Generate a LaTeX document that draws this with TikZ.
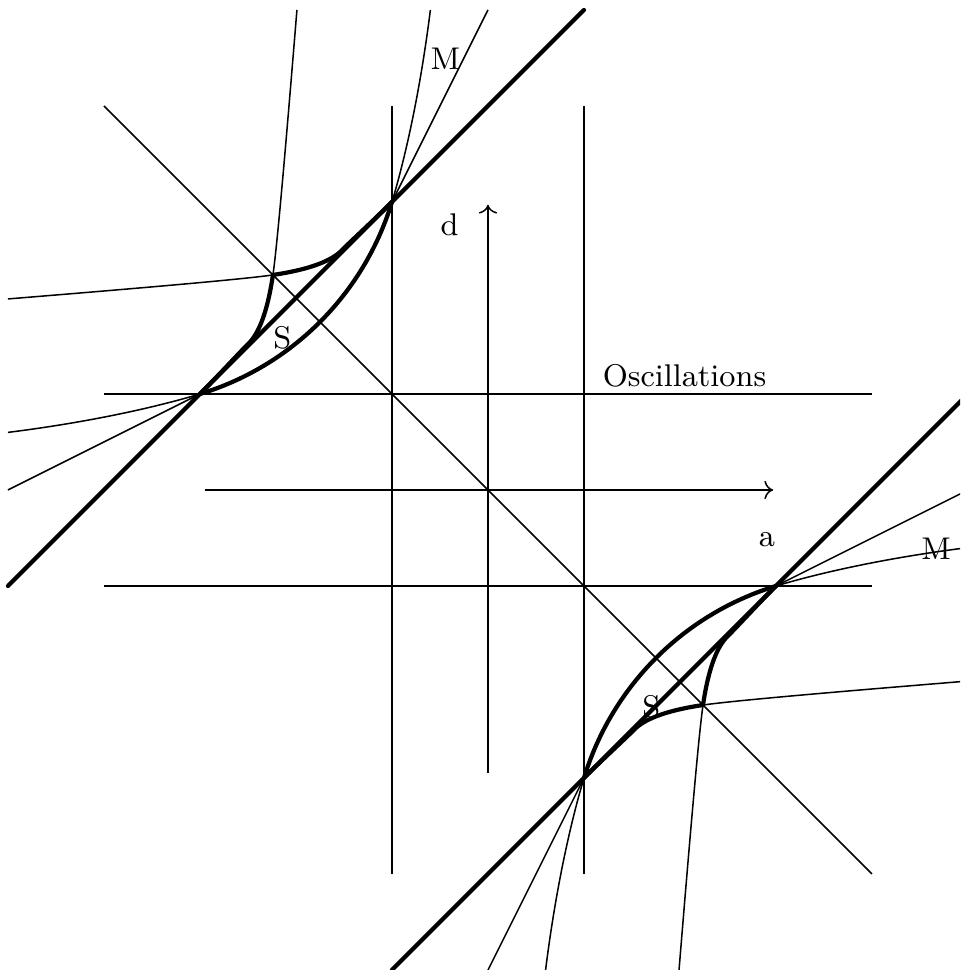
\documentclass[tikz,border=0pt]{standalone}
\usetikzlibrary{arrows.meta, calc}
\tikzset{
  thinline/.style={line width=0.45pt},
  boundary/.style={line width=1.25pt, line join=round, line cap=round},
  every node/.style={font=\fontsize{9.3}{11}\selectfont, inner sep=1pt},
}
% one half of a lobe (the other half is its mirror image in y=-x)
\newcommand{\halflobe}{%
  \draw[thinline] (-5,0) -- (-3,1);
  \draw[thinline] (-5,0.6) .. controls (-4.2,0.7) and (-3.5,0.85) .. (-3,1);
  \draw[thinline] (-2.24,2.24) .. controls (-2.19,2.58) and (-2.08,3.9) .. (-1.99,5);
  \draw[boundary] (-3,1) .. controls (-2.8,1.2) and (-2.62,1.4) .. (-2.48,1.54)
    .. controls (-2.37,1.66) and (-2.29,1.9) .. (-2.24,2.24);
}
\newcommand{\fulllobe}{%
  \halflobe
  \begin{scope}[cm={0,-1,-1,0,(0,0)}]
    \halflobe
  \end{scope}
  \draw[boundary] (-3,1) arc[start angle=-73.07, end angle=-16.93, radius=3.005];
  \draw[boundary] (-5,-1) -- (1,5);
}

\begin{document}
\begin{tikzpicture}
  \useasboundingbox (-5.083,-5) rectangle (4.917,5.104);
  \clip (-5.083,-5) rectangle (4.917,5.104);
  %% grid of thresholds ─────────────────────────────────────
  \draw[thinline] (-4,1) -- (4,1);
  \draw[thinline] (-4,-1) -- (4,-1);
  \draw[thinline] (-1,-4) -- (-1,4);
  \draw[thinline] (1,-4) -- (1,4);
  \draw[thinline] (-4,4) -- (4,-4);
  %% axes ───────────────────────────────────────────────────
  \coordinate (aTail) at (-2.95,0);
  \coordinate (aHead) at (2.97,0);
  \coordinate (dTail) at (0,-2.95);
  \coordinate (dHead) at (0,2.97);
  \draw[thinline, ->] (aTail) -- (aHead);
  \draw[thinline, ->] (dTail) -- (dHead);
  \node (aLabel) at (2.906,-0.516) {a};
  \node (dLabel) at (-0.40,2.76) {d};
  \node (oscLabel) at (2.047,1.19) {Oscillations};
  %% upper-left lobe ────────────────────────────────────────
  \fulllobe
  \node (mTop) at (-0.443,4.49) {M};
  \node (sUpper) at (-2.141,1.589) {S};
  %% lower-right lobe ───────────────────────────────────────
  \begin{scope}[rotate=180]
    \fulllobe
  \end{scope}
  \node (mRight) at (4.667,-0.615) {M};
  \node (sLower) at (1.701,-2.257) {S};
\end{tikzpicture}
\end{document}
